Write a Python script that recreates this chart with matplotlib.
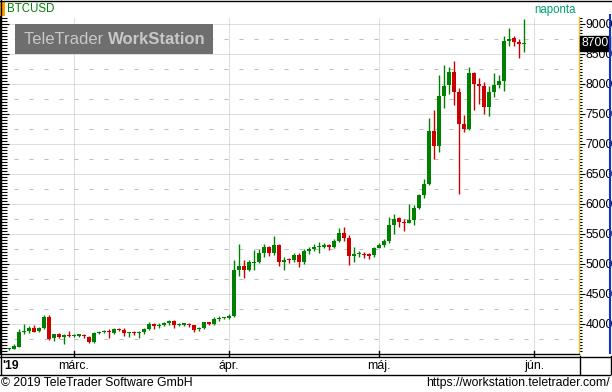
import matplotlib
matplotlib.use('Agg')
import matplotlib.pyplot as plt
from matplotlib.lines import Line2D
from matplotlib.patches import Rectangle
import numpy as np

# ---------------- data ----------------
start_date = '2019-02-16'
opens = [3575, 3590, 3620, 3870, 3890, 3940, 3880, 3930, 4120, 3760, 3830, 3790, 3820,
         3800, 3805, 3820, 3790, 3700, 3850, 3860, 3880, 3850, 3920, 3900, 3845, 3865,
         3850, 3860, 3920, 4000, 3960, 3975, 4010, 4050, 3980, 3990, 3995, 3975, 3910,
         3925, 4030, 4005, 4085, 4095,
         4100, 4140, 4900, 4970, 4905, 5020, 5040, 5190, 5280, 5190, 5320, 5030, 5080,
         5060, 5150, 5030, 5220, 5250, 5280, 5290, 5320, 5290, 5390, 5520, 5440, 5140,
         5160, 5170, 5160, 5150,
         5270, 5310, 5390, 5650, 5760, 5700, 5690, 5740, 5940, 6150, 6340, 7210, 6970,
         7800, 7990, 8200, 7870, 7340, 7250, 8180, 8000, 7960, 7620, 7870, 7990, 8050,
         8720, 8770, 8700, 8660]
highs = [3600, 3670, 3915, 4000, 3970, 3980, 3950, 4150, 4150, 3840, 3850, 3830, 3880,
         3840, 3840, 3840, 3800, 3870, 3890, 3900, 3920, 3940, 3930, 3930, 3870, 3880,
         3880, 3940, 4030, 4020, 4020, 4040, 4070, 4070, 4010, 4020, 4010, 3990, 3945,
         4040, 4040, 4110, 4140, 4115,
         4160, 5070, 5330, 5070, 5060, 5230, 5250, 5330, 5300, 5470, 5340, 5120, 5100,
         5180, 5180, 5250, 5290, 5330, 5360, 5350, 5340, 5420, 5600, 5620, 5480, 5280,
         5210, 5200, 5190, 5290,
         5350, 5410, 5780, 5830, 5790, 5750, 6000, 5980, 6170, 6420, 7430, 7570, 8150,
         8320, 8290, 8380, 7930, 7480, 8280, 8200, 8100, 8030, 7970, 8180, 8150, 8800,
         8930, 8800, 8750, 9080]
lows = [3565, 3580, 3610, 3840, 3850, 3860, 3860, 3920, 3740, 3720, 3770, 3670, 3780,
        3780, 3790, 3770, 3680, 3690, 3840, 3850, 3760, 3830, 3880, 3800, 3790, 3810,
        3770, 3840, 3900, 3920, 3940, 3960, 3980, 3940, 3970, 3975, 3950, 3860, 3880,
        3920, 3990, 3990, 4050, 4085,
        4080, 4120, 4800, 4770, 4880, 4900, 5010, 5120, 5130, 5150, 4970, 4900, 5020,
        5030, 4950, 5000, 5170, 5220, 5190, 5270, 5230, 5270, 5370, 5380, 4990, 5030,
        5110, 5100, 5080, 5120,
        5260, 5290, 5350, 5500, 5620, 5550, 5680, 5650, 5920, 6100, 6320, 6750, 6860,
        7600, 7840, 7650, 6170, 7200, 7230, 7570, 7670, 7500, 7460, 7780, 7930, 7890,
        8630, 8630, 8430, 8540]
closes = [3590, 3640, 3870, 3890, 3940, 3870, 3930, 4110, 3750, 3830, 3790, 3810, 3800,
          3820, 3820, 3800, 3700, 3850, 3870, 3875, 3860, 3920, 3900, 3845, 3860, 3850,
          3865, 3920, 4000, 3960, 3980, 4020, 4050, 3975, 3995, 4000, 3975, 3905, 3930,
          4025, 4005, 4090, 4100, 4105,
          4140, 4900, 4970, 4900, 5030, 5040, 5190, 5280, 5190, 5320, 5030, 5070, 5060,
          5150, 5030, 5220, 5250, 5280, 5290, 5320, 5290, 5390, 5520, 5440, 5130, 5160,
          5170, 5150, 5140, 5270,
          5310, 5390, 5650, 5750, 5700, 5685, 5740, 5940, 6150, 6340, 7210, 6970, 7800,
          7970, 8200, 7870, 7330, 7250, 8180, 8000, 7960, 7620, 7870, 7990, 8050, 8720,
          8750, 8700, 8660, 8680]
month_labels = ['márc.', 'ápr.', 'máj.', 'jún.']
month_starts = ['2019-03-01', '2019-04-01', '2019-05-01', '2019-06-01']
y_ticks = [4000, 4500, 5000, 5500, 6000, 6500, 7000, 7500, 8000, 8500, 9000]
symbol = 'BTCUSD'
period = 'naponta'
last_label = '8700'

# ---------------- setup ----------------
W, H = 612, 392
plt.rcParams['font.family'] = ['Liberation Sans', 'DejaVu Sans']
fig = plt.figure(figsize=(W / 100, H / 100), dpi=100)
fig.patch.set_facecolor('white')


def fx(px):
    return px / W


def fy(py):
    return 1 - py / H


d0 = np.datetime64(start_date)
xs = np.arange(len(opens))
mpos = [(np.datetime64(m) - d0).astype(int) for m in month_starts]

PL, PR, PT, PB = 1, 579, 17, 353
ax = fig.add_axes([fx(PL), fy(PB), fx(PR - PL), (PB - PT) / H])
ax.set_xlim((PL - 9) / 5, (PR - 9) / 5)
ymin, ymax = 9000 - (PB - 24) / 0.06, 9000 - (PT - 24) / 0.06
ax.set_ylim(ymin, ymax)
ax.set_facecolor('white')

GREEN = '#008000'
RED = '#CC0000'
GRID = '#BEBEBE'
LW = 0.72  # one pixel

# grid
for v in range(4000, 9001, 500):
    ax.axhline(v, color=GRID, lw=LW, ls=(0, (1, 1)), zorder=0)
for v in range(3750, 9001, 500):
    ax.axhline(v, color=GRID, lw=LW, ls=(2, (4, 11)), zorder=0)
for m in mpos:
    ax.axvline(m, color=GRID, lw=LW, ls=(0, (1, 1)), zorder=0)

# candles
o = np.array(opens, float)
c = np.array(closes, float)
h = np.array(highs, float)
l = np.array(lows, float)
cols = [RED if cc < oo else GREEN for oo, cc in zip(o, c)]
ax.vlines(xs, l, h, colors=cols, lw=1.0, zorder=2)
bottoms = np.minimum(o, c)
heights = np.maximum(np.abs(c - o), 20)
ax.bar(xs, heights, bottom=bottoms, width=0.62, color=cols, edgecolor=cols,
       lw=0.0, zorder=3)

# spines / ticks
for s in ['top', 'right', 'bottom']:
    ax.spines[s].set_visible(False)
ax.spines['left'].set_color('black')
ax.spines['left'].set_linewidth(1.4)
ax.set_xticks([])
ax.set_yticks(y_ticks)
ax.set_yticks(np.arange(3550, 9101, 50), minor=True)
ax.tick_params(axis='y', which='both', direction='in', length=4, width=0.8,
               labelleft=False, color='black')
ax.tick_params(axis='y', which='major', length=6)

ax2 = ax.twinx()
ax2.set_ylim(ymin, ymax)
ax2.set_xlim(ax.get_xlim())
for s in ['top', 'left', 'bottom']:
    ax2.spines[s].set_visible(False)
ax2.spines['right'].set_color('#F0C020')
ax2.spines['right'].set_linewidth(1.0)
ax2.set_yticks(y_ticks)
ax2.set_yticklabels([str(v) for v in y_ticks])
ax2.set_yticks(np.arange(3550, 9101, 50), minor=True)
ax2.tick_params(axis='y', which='minor', direction='out', length=2.2, width=0.8,
                color='black')
ax2.tick_params(axis='y', which='major', direction='out', length=4, width=0.8,
                color='black', labelsize=8.8, pad=0.5)
ax2.patch.set_visible(False)

# last price label
ax2.text(1.004, closes[-1], last_label, transform=ax2.get_yaxis_transform(),
         ha='left', va='center', color='white', fontsize=8.8, zorder=10,
         bbox=dict(boxstyle='square,pad=0.12', fc='black', ec='black'))

# ---------------- chrome ----------------
def hline(y, x0, x1, color='black', lw=1.0):
    fig.add_artist(Line2D([fx(x0), fx(x1)], [fy(y), fy(y)], color=color, lw=lw))


def vline(x, y0, y1, color='black', lw=1.0):
    fig.add_artist(Line2D([fx(x), fx(x)], [fy(y0), fy(y1)], color=color, lw=lw))


hline(0.5, 0, 612)
vline(0.5, 0, 374)
vline(609.5, 15, 353, color='#1030D0', lw=1.5)
hline(353.5, 0, 579)
hline(356.5, 0, 610)
hline(374.5, 0, 610)
vline(579.5, 356, 374)
vline(610.5, 356, 374)

# orange marker + symbol
fig.add_artist(Rectangle((fx(0), fy(16)), fx(5), 14 / H, color='#FFA000', lw=0))
fig.text(fx(7), fy(9), symbol, color='#008000', fontsize=8.3, ha='left', va='center')
fig.text(fx(576), fy(9.5), period, color='#00A070', fontsize=8.3, ha='right', va='center')

# watermark
fig.add_artist(Rectangle((fx(15), fy(54)), fx(198), 30 / H, color='#6E6E6E', lw=0,
                         zorder=5))
WM_FS = 12.0
t1 = fig.text(fx(24), fy(39.5), 'TeleTrader ', color='#C8C8C8', fontsize=WM_FS,
              ha='left', va='center', zorder=6)
fig.canvas.draw()
bb = t1.get_window_extent()
fig.text(bb.x1 / W, fy(39.5), 'WorkStation', color='#C8C8C8', fontsize=WM_FS,
         fontweight='bold', ha='left', va='center', zorder=6)

# month labels
fig.text(fx(2), fy(366), "'19", fontsize=8.8, fontweight='bold', ha='left', va='center')
for m, lab in zip(mpos, month_labels):
    xp = 9 + 5 * m
    fig.text(fx(xp), fy(366), lab, fontsize=8.8, ha='center', va='center')
    vline(xp, 351, 356)

# footer
fig.text(fx(1), fy(383), '© 2019 TeleTrader Software GmbH', fontsize=8.8,
         ha='left', va='center')
fig.text(fx(610), fy(383), 'https://workstation.teletrader.com/', fontsize=8.8,
         ha='right', va='center')

fig.savefig('out.png', dpi=100, facecolor='white')
